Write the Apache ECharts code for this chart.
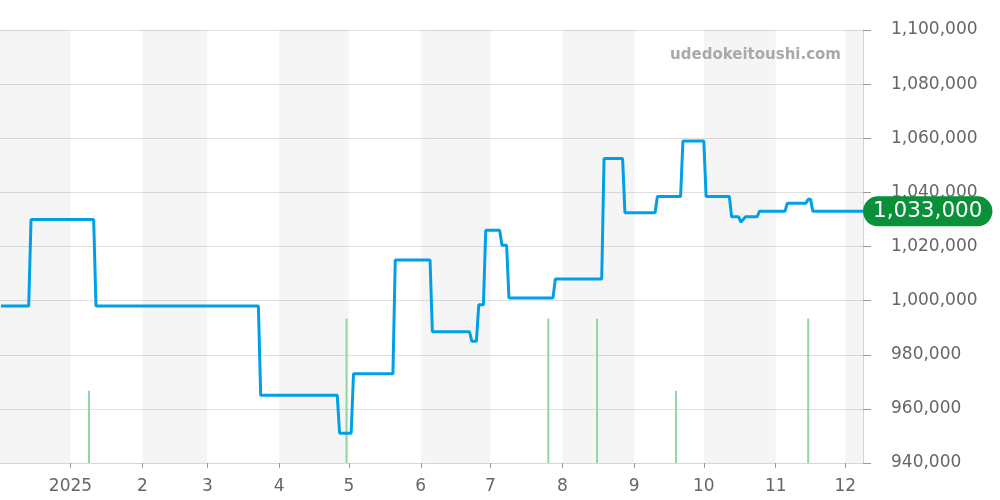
<!DOCTYPE html>
<html>
<head>
<meta charset="utf-8">
<script src="https://cdn.jsdelivr.net/npm/echarts@6/dist/echarts.min.js"></script>
<style>html,body{margin:0;padding:0;background:#fff}#c{width:1000px;height:500px}</style>
</head>
<body>
<div id="c"></div>
<script>
// ---- data ----
var priceDates = ['2024-12-02','2024-12-14','2024-12-15','2025-01-11','2025-01-12','2025-03-23','2025-03-24',
  '2025-04-26','2025-04-27','2025-05-02','2025-05-03','2025-05-20','2025-05-21','2025-06-05','2025-06-06',
  '2025-06-22','2025-06-23','2025-06-25','2025-06-26','2025-06-28','2025-06-29','2025-07-05','2025-07-06',
  '2025-07-08','2025-07-09','2025-07-28','2025-07-29','2025-08-18','2025-08-19','2025-08-27','2025-08-28',
  '2025-09-10','2025-09-11','2025-09-21','2025-09-22','2025-10-01','2025-10-02','2025-10-12','2025-10-13',
  '2025-10-16','2025-10-17','2025-10-19','2025-10-24','2025-10-25','2025-11-05','2025-11-06','2025-11-14',
  '2025-11-15','2025-11-16','2025-11-17','2025-12-08 15:00'];
var priceValues = [998000,998000,1030000,1030000,998000,998000,965000,
  965000,951000,951000,973000,973000,1015000,1015000,988500,
  988500,985000,985000,998500,998500,1026000,1026000,1020500,
  1020500,1001000,1001000,1008000,1008000,1052500,1052500,1032500,
  1032500,1038500,1038500,1059000,1059000,1038500,1038500,1031000,
  1031000,1029000,1031000,1031000,1033000,1033000,1036000,1036000,
  1037500,1037500,1033000,1033000];
var volDates = ['2025-01-09','2025-04-30','2025-07-26','2025-08-16','2025-09-19','2025-11-15'];
var volValues = [1,2,2,2,1,2];
var monthTicks = ['2025-01-01','2025-02-01','2025-03-01','2025-04-01','2025-05-01','2025-06-01',
  '2025-07-01','2025-08-01','2025-09-01','2025-10-01','2025-11-01','2025-12-01'];
var shadedStarts = ['2024-12-01 15:00','2025-02-01','2025-04-01','2025-06-01','2025-08-01','2025-10-01','2025-12-01'];
var shadedEnds   = ['2025-01-01','2025-03-01','2025-05-01','2025-07-01','2025-09-01','2025-11-01','2025-12-08 15:00'];
var yTicks = {min: 940000, max: 1100000, interval: 20000};
var axisMin = '2024-12-01 15:00', axisMax = '2025-12-08 15:00';

function toTs(s){
  var m = s.match(/^(\d{4})-(\d{2})-(\d{2})(?: (\d{2}):(\d{2}))?$/);
  return new Date(+m[1], +m[2]-1, +m[3], m[4]?+m[4]:0, m[5]?+m[5]:0).getTime();
}
var priceData = priceDates.map(function(d,i){return [toTs(d), priceValues[i]];});
var volData = volDates.map(function(d,i){return [toTs(d), volValues[i]];});
var bands = shadedStarts.map(function(s,i){return [{xAxis: toTs(s)},{xAxis: toTs(shadedEnds[i])}];});
var tickTs = monthTicks.map(toTs);
var FONT = 'DejaVu Sans';

var chart = echarts.init(document.getElementById('c'), null, {renderer:'canvas'});
chart.setOption({
  animation: false,
  title: {text: 'udedokeitoushi.com', right: 154, top: 43,
    textStyle: {fontFamily: FONT, fontSize: 15, fontWeight: 'bold', color: '#a9a9a9'}},
  grid: {left: 0, right: 137, top: 30, bottom: 37},
  xAxis: {
    type: 'value', min: toTs(axisMin), max: toTs(axisMax), scale: true,
    axisLine: {show: true, onZero: false, lineStyle: {color: '#c6e4cc', width: 1}},
    axisTick: {show: true, length: 5, lineStyle: {color: '#999'}, customValues: tickTs},
    axisLabel: {show: true, customValues: tickTs, margin: 15,
      fontFamily: FONT, fontSize: 17, color: '#666',
      formatter: function(v){ var d = new Date(v); return d.getMonth()===0 ? String(d.getFullYear()) : String(d.getMonth()+1); }},
    splitLine: {show: false}
  },
  yAxis: [{
    type: 'value', position: 'right', min: yTicks.min, max: yTicks.max, interval: yTicks.interval,
    axisLine: {show: true, lineStyle: {color: '#d5d5d5'}},
    axisTick: {show: true, length: 8, lineStyle: {color: '#999'}},
    axisLabel: {margin: 28, fontFamily: FONT, fontSize: 17, color: '#666', padding: [4, 0, 0, 0],
      formatter: function(v){ return v.toLocaleString('en-US'); }},
    splitLine: {show: true, lineStyle: {color: '#e0e0e0'}}
  },{
    type: 'value', min: 0, max: 6, show: false, splitLine: {show: false}
  }],
  series: [{
    type: 'bar', yAxisIndex: 1, data: volData, barWidth: 2, z: 1,
    itemStyle: {color: '#93d4a1'}, silent: true,
    markArea: {silent: true, itemStyle: {color: 'rgba(0,0,0,0.04)'}, data: bands}
  },{
    type: 'line', data: priceData, showSymbol: false, symbol: 'none', z: 3,
    lineStyle: {color: '#00a0e6', width: 3},
    endLabel: {show: true, distance: 0,
      formatter: function(p){ return p.value[1].toLocaleString('en-US'); },
      backgroundColor: '#0a8f3a', color: '#fff', fontFamily: FONT, fontSize: 21.5,
      padding: [4, 10, 4, 10], borderRadius: 16}
  }]
});
</script>
</body>
</html>
